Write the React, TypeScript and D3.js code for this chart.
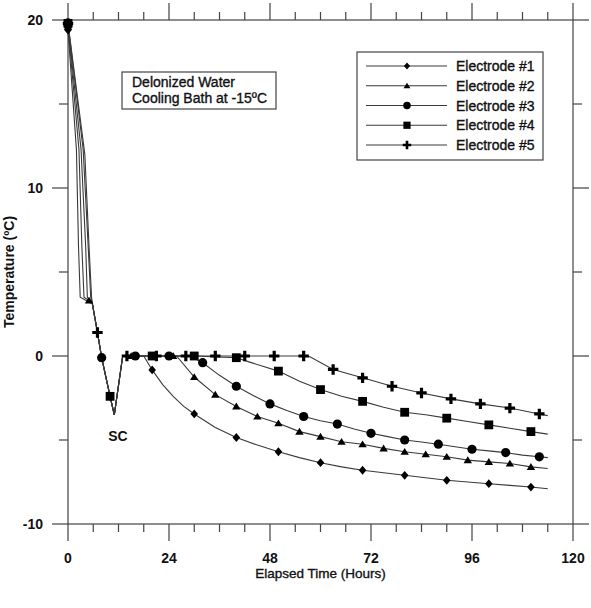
import React from "react";
import * as d3 from "d3";

// [hour, temperature °C, marker flag]
type P = [number, number, number];

const seriesNames = ["Electrode #1", "Electrode #2", "Electrode #3", "Electrode #4", "Electrode #5"];
const seriesSymbols = ["diamond", "triangle", "circle", "square", "plus"];

const electrode1: P[] = [
  [0, 19.4, 1], [2.0, 12.3, 0], [2.5, 6.5, 0], [2.9, 3.5, 0], [5.8, 3.1, 0], [7, 1.4, 0], [8, -0.1, 0],
  [10, -2.4, 1], [11, -3.5, 0], [13, 0, 0], [18, 0, 0], [20, -0.83, 1], [22.5, -1.7, 0], [25, -2.4, 0],
  [27.5, -3.0, 0], [30, -3.45, 1], [35, -4.25, 0], [40, -4.85, 1], [45, -5.3, 0], [50, -5.7, 1],
  [55, -6.05, 0], [60, -6.35, 1], [65, -6.6, 0], [70, -6.8, 1], [75, -6.95, 0], [80, -7.1, 1],
  [85, -7.25, 0], [90, -7.4, 1], [95, -7.5, 0], [100, -7.6, 1], [105, -7.7, 0], [110, -7.8, 1], [114, -7.9, 0],
];
const electrode2: P[] = [
  [0, 19.6, 1], [2.6, 12.3, 0], [3.3, 6.5, 0], [3.8, 3.5, 0], [5, 3.3, 1], [5.8, 3.1, 0], [7, 1.4, 0], [8, -0.1, 0],
  [10, -2.4, 1], [11, -3.5, 0], [13, 0, 0], [15, 0, 1], [20, 0, 1], [25, 0, 1], [25.8, 0, 0], [30, -1.25, 1],
  [35, -2.3, 1], [40, -3.0, 1], [45, -3.6, 1], [50, -4.0, 1], [55, -4.5, 1], [60, -4.8, 1], [65, -5.1, 1],
  [70, -5.25, 1], [75, -5.5, 1], [80, -5.7, 1], [85, -5.85, 1], [90, -6.0, 1], [95, -6.2, 1], [100, -6.3, 1],
  [105, -6.4, 1], [110, -6.6, 1], [114, -6.7, 0],
];
const electrode3: P[] = [
  [0, 19.7, 1], [3.1, 12.3, 0], [4.2, 6.5, 0], [4.6, 3.5, 0], [5.8, 3.1, 0], [7, 1.4, 0], [8, -0.1, 1],
  [10, -2.4, 0], [11, -3.5, 0], [13, 0, 0], [16, 0, 1], [24, 0, 1], [29, 0, 0], [32, -0.4, 1], [36, -1.15, 0],
  [40, -1.8, 1], [44, -2.35, 0], [48, -2.85, 1], [52, -3.25, 0], [56, -3.6, 1], [60, -3.85, 0], [64, -4.05, 1],
  [68, -4.35, 0], [72, -4.6, 1], [76, -4.8, 0], [80, -5.0, 1], [84, -5.12, 0], [88, -5.25, 1], [92, -5.4, 0],
  [96, -5.55, 1], [100, -5.65, 0], [104, -5.75, 1], [108, -5.9, 0], [112, -6.0, 1], [114, -6.05, 0],
];
const electrode4: P[] = [
  [0, 19.8, 1], [3.6, 12.3, 0], [4.8, 6.5, 0], [5.4, 3.5, 0], [5.8, 3.1, 0], [7, 1.4, 0], [8, -0.1, 0],
  [10, -2.4, 1], [11, -3.5, 0], [13, 0, 0], [20, 0, 1], [30, 0, 1], [40, -0.1, 1], [43, -0.35, 0],
  [50, -0.9, 1], [55, -1.5, 0], [60, -2.0, 1], [65, -2.4, 0], [70, -2.7, 1], [75, -3.05, 0], [80, -3.35, 1],
  [85, -3.5, 0], [90, -3.7, 1], [95, -3.9, 0], [100, -4.1, 1], [105, -4.3, 0], [110, -4.5, 1], [114, -4.65, 0],
];
const electrode5: P[] = [
  [0, 19.8, 1], [4.0, 12.0, 0], [5.0, 6.5, 0], [5.6, 3.5, 0], [5.8, 3.1, 0], [7, 1.4, 1], [8, -0.1, 0],
  [10, -2.4, 0], [11, -3.5, 0], [13, 0, 0], [14, 0, 1], [21, 0, 1], [28, 0, 1], [35, 0, 1], [42, 0, 1],
  [49, 0, 1], [56, 0, 1], [57.5, -0.05, 0], [63, -0.8, 1], [70, -1.3, 1], [77, -1.8, 1], [84, -2.2, 1],
  [91, -2.55, 1], [98, -2.85, 1], [105, -3.1, 1], [112, -3.45, 1], [114, -3.55, 0],
];
const allSeries = [electrode1, electrode2, electrode3, electrode4, electrode5];

const xMajorTicks = [0, 24, 48, 72, 96, 120];
const xMinorTicks = d3.range(0, 121, 6);
const yMajorTicks = [-10, 0, 10, 20];
const yMinorTicks = d3.range(-10, 21, 5);

const noteLines = ["Delonized Water", "Cooling Bath at -15ºC"];

const W = 591, H = 608;
const left = 68, right = 573, top = 20, bottom = 524;

function markerPath(kind: string, s: number): string {
  switch (kind) {
    case "diamond": {
      const w = 3.8 * s, h = 4.4 * s;
      return `M0,${-h}L${w},0L0,${h}L${-w},0Z`;
    }
    case "triangle": {
      const w = 4.2 * s, h = 3.8 * s;
      return `M0,${-h}L${w},${h * 0.8}L${-w},${h * 0.8}Z`;
    }
    case "circle": {
      const r = 4.6 * s;
      return `M${r},0A${r},${r} 0 1,1 ${-r},0A${r},${r} 0 1,1 ${r},0Z`;
    }
    case "square": {
      const a = 4.4 * s;
      return `M${-a},${-a}H${a}V${a}H${-a}Z`;
    }
    default: {
      const a = 5.2 * s, t = 1.6 * s;
      return `M${-t},${-a}H${t}V${-t}H${a}V${t}H${t}V${a}H${-t}V${t}H${-a}V${-t}H${-t}Z`;
    }
  }
}

export default function App() {
  const x = d3.scaleLinear().domain([0, 120]).range([left, right]);
  const y = d3.scaleLinear().domain([-10, 20]).range([bottom, top]);
  const line = d3.line<P>().x((d) => x(d[0])).y((d) => y(d[1])).curve(d3.curveLinear);

  const frameColor = "#444";
  const font = "'Liberation Sans', Arial, sans-serif";
  const textStroke = { stroke: "#111", strokeWidth: 0.35 };

  const legendX = 357, legendY = 52, legendW = 186, legendH = 108;
  const rowY = (i: number) => 66 + i * 19.75;

  return (
    <div style={{ position: "absolute", left: 0, top: 0 }}>
      <svg width={W} height={H} style={{ display: "block", background: "#fff" }} fontFamily={font}>
        <rect x={0} y={0} width={W} height={H} fill="#fff" />
        {/* frame */}
        <rect x={left} y={top} width={right - left} height={bottom - top} fill="none" stroke={frameColor} strokeWidth={1.2} />
        {/* x ticks bottom and top */}
        {xMinorTicks.map((t) => {
          const major = xMajorTicks.includes(t);
          const len = major ? 17 : 8;
          return (
            <g key={"xt" + t} stroke={frameColor} strokeWidth={1.2}>
              <line x1={x(t)} x2={x(t)} y1={bottom} y2={bottom + len} />
              <line x1={x(t)} x2={x(t)} y1={top} y2={top - len} />
            </g>
          );
        })}
        {yMinorTicks.map((t) => {
          const major = yMajorTicks.includes(t);
          const len = major ? 16 : 9;
          return (
            <g key={"yt" + t} stroke={frameColor} strokeWidth={1.2}>
              <line x1={left - len} x2={left} y1={y(t)} y2={y(t)} />
              <line x1={right} x2={right + len} y1={y(t)} y2={y(t)} />
            </g>
          );
        })}
        {xMajorTicks.map((t) => (
          <text key={"xl" + t} x={x(t)} y={563} textAnchor="middle" fontSize={14} fontWeight="bold" fill="#111">
            {t}
          </text>
        ))}
        {yMajorTicks.map((t) => (
          <text key={"yl" + t} x={43} y={y(t) + 5} textAnchor="end" fontSize={14} fontWeight="bold" fill="#111">
            {t}
          </text>
        ))}
        <text x={(left + right) / 2} y={578} textAnchor="middle" fontSize={13.5} fill="#111" {...textStroke}>
          Elapsed Time (Hours)
        </text>
        <text
          transform={`translate(14,${(top + bottom) / 2}) rotate(-90)`}
          textAnchor="middle"
          fontSize={14}
          fontWeight="bold"
          fill="#111"
        >
          Temperature (ºC)
        </text>

        {/* series lines */}
        {allSeries.map((s, i) => (
          <path key={"l" + i} d={line(s) || ""} fill="none" stroke="#3a3a3a" strokeWidth={1.1} />
        ))}
        {/* markers */}
        {allSeries.map((s, i) =>
          s
            .filter((d) => d[2] === 1)
            .map((d, j) => (
              <path
                key={"m" + i + "-" + j}
                d={markerPath(seriesSymbols[i], 1)}
                transform={`translate(${x(d[0])},${y(d[1])})`}
                fill="#000"
              />
            ))
        )}

        <text x={118} y={441} textAnchor="middle" fontSize={14} fontWeight="bold" fill="#111">
          SC
        </text>

        {/* note box */}
        <rect x={122} y={72} width={154} height={37} fill="#fff" stroke={frameColor} strokeWidth={1.2} />
        {noteLines.map((t, i) => (
          <text key={"n" + i} x={132} y={87 + i * 16} fontSize={14} fill="#111" {...textStroke}>
            {t}
          </text>
        ))}

        {/* legend */}
        <rect x={legendX} y={legendY} width={legendW} height={legendH} fill="#fff" stroke={frameColor} strokeWidth={1.2} />
        {seriesNames.map((n, i) => (
          <g key={"lg" + i}>
            <line x1={366} x2={447} y1={rowY(i)} y2={rowY(i)} stroke="#3a3a3a" strokeWidth={1.1} />
            <path d={markerPath(seriesSymbols[i], 0.82)} transform={`translate(407,${rowY(i)})`} fill="#000" />
            <text x={456} y={rowY(i) + 5} fontSize={14} fill="#111" {...textStroke}>
              {n}
            </text>
          </g>
        ))}
      </svg>
    </div>
  );
}
